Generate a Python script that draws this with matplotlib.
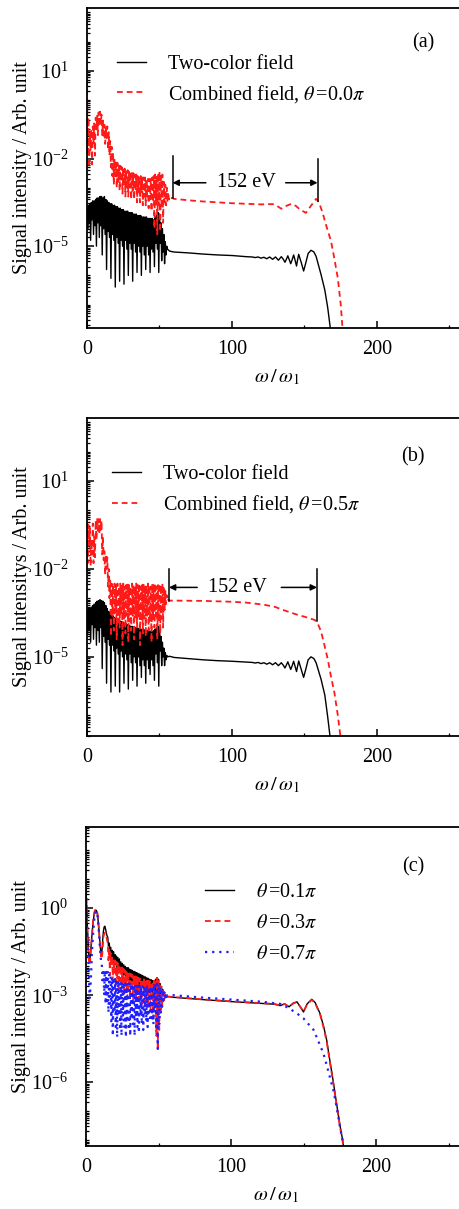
import numpy as np
import matplotlib
matplotlib.use('Agg')
import matplotlib.pyplot as plt
from matplotlib.ticker import FixedLocator, LogFormatterSciNotation, NullFormatter

plt.rcParams['font.family'] = ['Liberation Serif', 'DejaVu Serif']
plt.rcParams['mathtext.fontset'] = 'stix'
plt.rcParams['font.size'] = 14.5
plt.rcParams['axes.unicode_minus'] = False

# log10 signal values.
# noisy low-order part: peaks at x = 0, 1, 2 ... and dips at x = 0.5, 1.5 ...
a_black_peak = [-3.7, -3.6, -3.55, -3.5, -3.45, -3.45, -3.4, -3.35, -3.35, -3.3,
                -3.3, -3.35, -3.3, -3.4, -3.45, -3.5, -3.55, -3.55, -3.6, -3.6,
                -3.65, -3.65, -3.7, -3.7, -3.75, -3.75, -3.8, -3.8, -3.8, -3.85,
                -3.85, -3.85, -3.9, -3.9, -3.9, -3.95, -3.95, -3.95, -4.0, -4.0,
                -4.0, -4.0, -4.05, -4.05, -4.05, -4.05, -4.1, -4.0, -3.95, -3.85,
                -3.9, -4.2, -4.4, -4.6, -4.85, -5.0]
a_black_dip = [-4.4, -4.2, -4.8, -4.1, -4.6, -4.3, -5.0, -4.2, -4.7, -4.3,
               -5.3, -4.4, -4.6, -5.8, -4.5, -4.7, -6.1, -4.6, -4.8, -6.4,
               -4.7, -4.9, -6.2, -4.8, -5.0, -6.3, -4.8, -5.1, -6.0, -4.9,
               -5.1, -6.2, -4.9, -5.2, -5.9, -5.0, -5.2, -6.0, -5.0, -5.3,
               -5.8, -5.0, -5.3, -5.9, -5.1, -5.2, -5.7, -4.9, -5.1, -5.9,
               -4.9, -5.5, -5.2, -5.6, -5.3, -5.1]
a_black_tail_x = [57, 60, 70, 80, 90, 100, 110, 114, 116, 118, 120, 122, 124,
                  126, 128, 130, 132, 134, 135.3, 136.5, 137.5, 138.5, 139.5,
                  140.5, 141.5, 142.5, 143.5, 144.5, 145.3, 146, 147.7, 149.4,
                  151, 152.5, 154.5, 156.5, 158, 161.4, 164, 166, 168.3]
a_black_tail_y = [-5.17, -5.2, -5.23, -5.27, -5.3, -5.32, -5.36, -5.37, -5.39,
                  -5.37, -5.41, -5.38, -5.43, -5.37, -5.45, -5.37, -5.48, -5.36,
                  -5.44, -5.55, -5.45, -5.33, -5.46, -5.6, -5.46, -5.3, -5.48,
                  -5.68, -5.45, -5.28, -5.55, -5.85, -5.55, -5.25, -5.14, -5.2,
                  -5.35, -5.97, -6.5, -7.1, -8.0]

a_red_peak = [0.7, -0.6, -1.2, -1.0, -0.9, -0.8, -0.6, -0.5, -0.42, -0.4,
              -0.5, -0.7, -0.85, -0.9, -0.9, -1.1, -1.4, -1.6, -1.8, -2.0,
              -2.1, -2.15, -2.2, -2.25, -2.3, -2.3, -2.35, -2.4, -2.4, -2.45,
              -2.45, -2.5, -2.5, -2.55, -2.55, -2.6, -2.6, -2.6, -2.65, -2.65,
              -2.65, -2.7, -2.7, -2.7, -2.7, -2.65, -2.6, -2.55, -2.6, -2.5,
              -2.45, -2.6, -2.55, -2.8, -2.9, -3.0, -3.15, -3.3]
a_red_dip = [-1.9, -2.3, -1.7, -2.2, -1.5, -1.9, -1.0, -1.2, -0.9, -0.8,
             -1.2, -1.3, -1.5, -1.3, -1.7, -1.9, -2.3, -2.6, -2.9, -2.6,
             -3.0, -2.8, -3.1, -2.8, -3.2, -2.9, -3.3, -3.0, -3.3, -3.0,
             -3.4, -3.1, -3.4, -3.1, -3.5, -3.2, -3.5, -3.2, -3.6, -3.3,
             -3.6, -3.3, -3.7, -3.4, -3.8, -3.5, -4.4, -3.6, -4.6, -3.6,
             -4.5, -3.7, -4.2, -3.5, -3.6, -3.5, -3.4, -3.35]
a_red_tail_x = [58.5, 60, 70, 80, 90, 100, 110, 120, 128, 131, 134, 137.5, 141,
                144, 147, 151, 154, 158, 160, 162.5, 165, 168.3, 170.5, 173,
                175, 176.5]
a_red_tail_y = [-3.35, -3.38, -3.43, -3.47, -3.5, -3.53, -3.55, -3.57, -3.56,
                -3.62, -3.72, -3.62, -3.55, -3.62, -3.75, -3.86, -3.65, -3.38,
                -3.5, -3.86, -4.3, -4.83, -5.4, -6.1, -7.0, -8.0]

b_black_peak = [-3.4, -3.35, -3.35, -3.3, -3.25, -3.2, -3.15, -3.1, -3.08, -3.05,
                -3.08, -3.1, -3.15, -3.25, -3.35, -3.45, -3.5, -3.55, -3.6, -3.65,
                -3.7, -3.72, -3.75, -3.78, -3.8, -3.82, -3.85, -3.87, -3.9, -3.92,
                -3.95, -3.96, -3.98, -4.0, -4.0, -4.02, -4.03, -4.05, -4.05, -4.07,
                -4.08, -4.1, -4.1, -4.12, -4.12, -4.13, -4.1, -4.05, -4.0, -3.95,
                -4.0, -4.3, -4.5, -4.7, -4.85, -4.95]
b_black_dip = [-4.2, -4.0, -4.5, -3.9, -4.4, -4.0, -4.6, -4.1, -4.5, -4.0,
               -5.4, -4.3, -4.5, -5.9, -4.4, -4.6, -6.2, -4.6, -4.8, -6.0,
               -4.7, -4.9, -6.2, -4.8, -5.0, -5.9, -4.9, -5.1, -6.1, -4.9,
               -5.2, -5.8, -5.0, -5.2, -6.0, -5.0, -5.3, -5.7, -5.1, -5.3,
               -5.9, -5.1, -5.4, -5.6, -5.1, -5.3, -5.8, -4.9, -5.2, -6.0,
               -4.8, -5.3, -5.0, -5.3, -5.1, -5.0]
b_black_tail_x = [57, 60, 70, 80, 90, 100, 110, 114, 116, 118, 120, 122, 124,
                  126, 128, 130, 132, 134, 135.3, 136.5, 137.5, 138.5, 139.5,
                  140.5, 141.5, 142.5, 143.5, 144.5, 145.3, 146, 147.7, 149.4,
                  151, 152.5, 154.5, 156.5, 158, 161.4, 164, 166, 168.3]
b_black_tail_y = [-4.98, -5.02, -5.06, -5.1, -5.13, -5.15, -5.18, -5.19, -5.21,
                  -5.19, -5.23, -5.2, -5.25, -5.2, -5.27, -5.2, -5.3, -5.2,
                  -5.28, -5.38, -5.28, -5.17, -5.3, -5.43, -5.3, -5.15, -5.33,
                  -5.5, -5.3, -5.14, -5.42, -5.7, -5.4, -5.1, -5.0, -5.06,
                  -5.2, -5.76, -6.3, -7.05, -8.0]

b_red_peak = [0.6, -0.5, -0.6, -1.0, -0.45, -0.9, -0.35, -0.3, -0.3, -0.3,
              -0.35, -0.9, -1.4, -1.5, -1.6, -2.0, -2.4, -2.5, -2.55, -2.5,
              -2.55, -2.5, -2.6, -2.5, -2.55, -2.5, -2.6, -2.55, -2.5, -2.55,
              -2.6, -2.5, -2.55, -2.6, -2.5, -2.55, -2.5, -2.6, -2.55, -2.5,
              -2.6, -2.55, -2.5, -2.55, -2.6, -2.5, -2.55, -2.5, -2.6, -2.55,
              -2.5, -2.55, -2.5, -2.6, -2.75, -2.9, -3.05]
b_red_dip = [-1.8, -1.2, -1.9, -1.5, -1.8, -1.6, -1.0, -0.7, -0.8, -0.7,
             -1.5, -1.7, -2.2, -2.0, -2.6, -3.0, -4.3, -3.6, -4.1, -3.5,
             -4.4, -3.8, -4.0, -3.6, -4.6, -3.7, -4.2, -3.6, -4.5, -3.8,
             -4.1, -3.6, -4.4, -3.7, -4.0, -3.6, -4.6, -3.8, -4.2, -3.7,
             -4.3, -3.6, -4.1, -3.8, -4.5, -3.7, -4.0, -3.6, -4.4, -3.8,
             -4.2, -3.7, -4.0, -3.4, -3.2, -3.1, -3.08]
b_red_tail_x = [57.5, 60, 80, 100, 110, 122, 130, 134, 140, 145.5, 150, 157,
                159, 161.4, 163.5, 166, 168, 170.6, 173, 175.5]
b_red_tail_y = [-3.08, -3.08, -3.09, -3.12, -3.15, -3.22, -3.3, -3.38, -3.48,
                -3.57, -3.63, -3.74, -3.85, -4.13, -4.55, -5.07, -5.6, -6.22,
                -7.0, -8.0]

c_black_peak = [0.72, -0.7, -1.7, -1.6, -1.0, -0.45, -0.12, -0.07, -0.25, -0.8,
                -1.4, -1.5, -0.8, -0.62, -0.85, -1.0, -1.2, -1.35, -1.45, -1.5,
                -1.6, -1.65, -1.7, -1.75, -1.85, -1.9, -1.95, -2.0, -2.05, -2.05,
                -2.1, -2.12, -2.15, -2.18, -2.2, -2.22, -2.25, -2.27, -2.3, -2.32,
                -2.35, -2.37, -2.4, -2.42, -2.45, -2.47, -2.5, -2.5, -2.45, -2.4,
                -2.45, -2.6, -2.7, -2.8, -2.9, -3.0, -3.05]
c_black_dip = [0.0, -1.3, -1.85, -1.3, -0.7, -0.25, -0.07, -0.12, -0.5, -1.1,
               -1.65, -1.1, -0.65, -0.72, -0.95, -1.3, -1.45, -1.7, -1.75, -1.9,
               -1.95, -2.05, -2.05, -2.2, -2.2, -2.3, -2.3, -2.4, -2.4, -2.45,
               -2.5, -2.5, -2.55, -2.6, -2.6, -2.65, -2.65, -2.7, -2.7, -2.75,
               -2.75, -2.8, -2.8, -2.85, -2.85, -2.9, -2.95, -2.9, -3.0, -2.8,
               -3.0, -2.95, -3.0, -3.0, -3.05, -3.05, -3.05]
c_black_tail_x = [57.5, 60, 80, 100, 120, 130, 134, 137, 140, 143, 145.5, 147.5,
                  150, 152.5, 155.7, 158, 161.4, 164, 166, 168, 170.6, 173, 175.2,
                  177, 178.6]
c_black_tail_y = [-3.05, -3.07, -3.15, -3.22, -3.28, -3.31, -3.36, -3.3, -3.4,
                  -3.27, -3.23, -3.38, -3.58, -3.3, -3.14, -3.25, -3.63, -4.1,
                  -4.55, -5.2, -6.0, -6.8, -7.5, -8.0, -8.6]

c_red_peak = [0.7, -0.8, -1.8, -1.7, -1.0, -0.4, -0.1, -0.05, -0.2, -0.8,
              -1.5, -1.7, -1.0, -0.85, -0.95, -1.2, -1.4, -1.55, -1.65, -1.75,
              -1.8, -1.85, -1.9, -1.95, -2.0, -2.05, -2.1, -2.15, -2.2, -2.2,
              -2.25, -2.27, -2.3, -2.32, -2.35, -2.37, -2.4, -2.42, -2.45, -2.45,
              -2.45, -2.5, -2.5, -2.5, -2.52, -2.55, -2.55, -2.5, -2.45, -2.4,
              -2.5, -2.6, -2.7, -2.85, -2.95, -3.0, -3.05]
c_red_dip = [-0.1, -1.4, -1.95, -1.4, -0.7, -0.2, -0.05, -0.1, -0.45, -1.2,
             -1.75, -1.4, -0.9, -0.85, -1.1, -1.8, -2.3, -2.0, -2.5, -2.2,
             -2.7, -2.4, -2.8, -2.5, -2.9, -2.6, -3.0, -2.7, -3.1, -2.8,
             -3.1, -2.8, -3.2, -2.9, -3.2, -2.9, -3.3, -3.0, -3.3, -3.0,
             -3.4, -3.1, -3.4, -3.1, -3.5, -3.2, -3.8, -3.4, -4.4, -4.9,
             -4.2, -3.6, -3.4, -3.2, -3.1, -3.05, -3.05]
c_red_tail_x = c_black_tail_x
c_red_tail_y = [-3.05, -3.06, -3.14, -3.21, -3.27, -3.3, -3.36, -3.3, -3.4,
                -3.28, -3.24, -3.38, -3.56, -3.32, -3.16, -3.27, -3.66, -4.15,
                -4.6, -5.25, -6.05, -6.85, -7.55, -8.05, -8.6]

c_blue_peak = [0.6, -1.0, -2.4, -2.8, -1.6, -0.8, -0.25, -0.1, -0.3, -0.9,
               -1.6, -2.0, -2.1, -2.15, -2.2, -2.2, -2.3, -2.35, -2.4, -2.4,
               -2.45, -2.45, -2.5, -2.5, -2.55, -2.55, -2.55, -2.6, -2.6, -2.6,
               -2.6, -2.62, -2.62, -2.65, -2.65, -2.65, -2.68, -2.68, -2.7, -2.7,
               -2.7, -2.7, -2.7, -2.72, -2.72, -2.7, -2.68, -2.65, -2.65, -2.6,
               -2.6, -2.7, -2.75, -2.85, -2.9, -2.95, -3.0]
c_blue_dip = [-0.3, -1.7, -3.1, -2.3, -1.2, -0.5, -0.15, -0.15, -0.6, -1.3,
              -1.9, -2.6, -3.0, -3.3, -3.2, -3.6, -3.4, -3.9, -4.4, -3.6,
              -4.1, -4.45, -3.7, -4.2, -4.4, -3.7, -4.1, -4.45, -3.8, -4.2,
              -4.4, -3.7, -4.0, -4.4, -3.8, -4.1, -4.3, -3.7, -4.0, -4.2,
              -3.7, -3.9, -4.1, -3.6, -3.9, -3.8, -4.0, -3.6, -4.2, -4.85,
              -4.0, -3.6, -3.4, -3.2, -3.1, -3.05, -3.0]
c_blue_tail_x = [57.5, 60, 80, 100, 120, 134, 140, 145.5, 150, 157, 163.7, 167,
                 170.6, 173, 175.2, 177, 178.3]
c_blue_tail_y = [-3.0, -3.0, -3.08, -3.15, -3.22, -3.3, -3.45, -3.63, -3.8, -4.2,
                 -5.0, -5.6, -6.28, -6.9, -7.55, -8.0, -8.6]

FIG_W, FIG_H = 460, 1209
PX_PER_UNIT = 1.45
X_MAX = 262
FS = 14.5


def _series(peak, dip, tail_x, tail_y):
    n = len(peak)
    x = np.empty(2 * n)
    y = np.empty(2 * n)
    x[0::2] = np.arange(n)
    x[1::2] = np.arange(n) + 0.5
    y[0::2] = peak
    y[1::2] = dip
    x = np.concatenate([x, tail_x])
    y = np.concatenate([y, tail_y])
    return x, 10.0 ** y


def _axes(fig, left, top, bottom):
    width = X_MAX * PX_PER_UNIT
    ax = fig.add_axes([left / FIG_W, 1 - bottom / FIG_H,
                       width / FIG_W, (bottom - top) / FIG_H])
    for spine in ax.spines.values():
        spine.set_linewidth(1.3)
    return ax


def _style(ax, ylo, yhi, majors, ylabel):
    ax.set_yscale('log')
    ax.set_xlim(0, X_MAX)
    ax.set_ylim(10.0 ** ylo, 10.0 ** yhi)
    ax.set_xticks([0, 100, 200])
    ax.set_xticks([50, 150, 250], minor=True)
    ax.yaxis.set_major_locator(FixedLocator([10.0 ** m for m in majors]))
    ax.yaxis.set_major_formatter(LogFormatterSciNotation())
    minors = [k * 10.0 ** d for d in range(int(np.floor(ylo)), int(np.ceil(yhi)) + 1)
              for k in range(1, 10) if not (k == 1 and d in majors)]
    ax.yaxis.set_minor_locator(FixedLocator(minors))
    ax.yaxis.set_minor_formatter(NullFormatter())
    ax.tick_params(which='both', direction='in', labelsize=FS)
    ax.tick_params(which='major', length=5, width=1.1)
    ax.tick_params(which='minor', length=2.5, width=0.9)
    ax.tick_params(axis='x', pad=9)
    ax.tick_params(axis='y', pad=13)
    ax.set_ylabel(ylabel, fontsize=FS, labelpad=0)
    ax.set_xlabel(r'$\omega\,/\,\omega_1$', fontsize=FS, labelpad=6)


def _span(ax, x_left, x_right, y_arrow, left_top, left_bot, right_top, right_bot,
          text_x, arrow_in, arrow_out):
    ax.plot([x_left, x_left], [10.0 ** left_top, 10.0 ** left_bot], color='black', lw=1.1)
    ax.plot([x_right, x_right], [10.0 ** right_top, 10.0 ** right_bot], color='black', lw=1.1)
    props = dict(arrowstyle='-|>', color='black', lw=1.1, mutation_scale=9,
                 shrinkA=0, shrinkB=0)
    ax.annotate('', xy=(x_left, 10.0 ** y_arrow), xytext=(arrow_in, 10.0 ** y_arrow),
                arrowprops=props)
    ax.annotate('', xy=(x_right, 10.0 ** y_arrow), xytext=(arrow_out, 10.0 ** y_arrow),
                arrowprops=props)
    ax.text(text_x, 10.0 ** y_arrow, '152 eV', ha='center', va='center', fontsize=FS)


def _legend(ax, x, y, spacing):
    ax.legend(loc='upper left', bbox_to_anchor=(x, y), frameon=False,
              fontsize=FS, handlelength=1.45, handletextpad=1.1,
              labelspacing=spacing, borderpad=0, borderaxespad=0)


fig = plt.figure(figsize=(FIG_W / 100, FIG_H / 100), dpi=100)

RED = dict(color='#ff1a1a', lw=1.3, dashes=(3.2, 2.2))
BLACK = dict(color='black', lw=1.0)
BLUE = dict(color='#1f1fff', lw=1.6, linestyle=(0, (1, 2.2)))

# panel (a)
ax = _axes(fig, 87, 8, 328)
x, y = _series(a_black_peak, a_black_dip, a_black_tail_x, a_black_tail_y)
ax.plot(x, y, label='Two-color field', **BLACK)
x, y = _series(a_red_peak, a_red_dip, a_red_tail_x, a_red_tail_y)
ax.plot(x, y, label=r'Combined field, $\theta\,$=0.0$\pi$', **RED)
_style(ax, -7.8, 3.15, [1, -2, -5], 'Signal intensity / Arb. unit')
_span(ax, 59, 159, -2.83, -1.9, -3.34, -2.03, -3.45, 109.6, 82, 137)
_legend(ax, 0.079, 0.854, 0.45)
ax.text(0.884, 0.89, '(a)', transform=ax.transAxes, ha='center', va='center', fontsize=FS)

# panel (b)
ax = _axes(fig, 87, 418, 736)
x, y = _series(b_black_peak, b_black_dip, b_black_tail_x, b_black_tail_y)
ax.plot(x, y, label='Two-color field', **BLACK)
x, y = _series(b_red_peak, b_red_dip, b_red_tail_x, b_red_tail_y)
ax.plot(x, y, label=r'Combined field, $\theta\,$=0.5$\pi$', **RED)
_style(ax, -7.7, 3.15, [1, -2, -5], 'Signal intensitys / Arb. unit')
_span(ax, 56.5, 158.6, -2.63, -2.0, -3.08, -2.0, -3.78, 104, 76, 134)
_legend(ax, 0.066, 0.851, 0.45)
ax.text(0.858, 0.877, '(b)', transform=ax.transAxes, ha='center', va='center', fontsize=FS)

# panel (c)
ax = _axes(fig, 86, 827, 1146)
x, y = _series(c_black_peak, c_black_dip, c_black_tail_x, c_black_tail_y)
ax.plot(x, y, label=r'$\theta\,$=0.1$\pi$', **BLACK)
x, y = _series(c_red_peak, c_red_dip, c_red_tail_x, c_red_tail_y)
ax.plot(x, y, label=r'$\theta\,$=0.3$\pi$', **RED)
x, y = _series(c_blue_peak, c_blue_dip, c_blue_tail_x, c_blue_tail_y)
ax.plot(x, y, label=r'$\theta\,$=0.7$\pi$', **BLUE)
_style(ax, -8.2, 2.8, [0, -3, -6], 'Signal intensity / Arb. unit')
_legend(ax, 0.313, 0.826, 0.6)
ax.text(0.861, 0.875, '(c)', transform=ax.transAxes, ha='center', va='center', fontsize=FS)

fig.savefig('out.png', dpi=100)
